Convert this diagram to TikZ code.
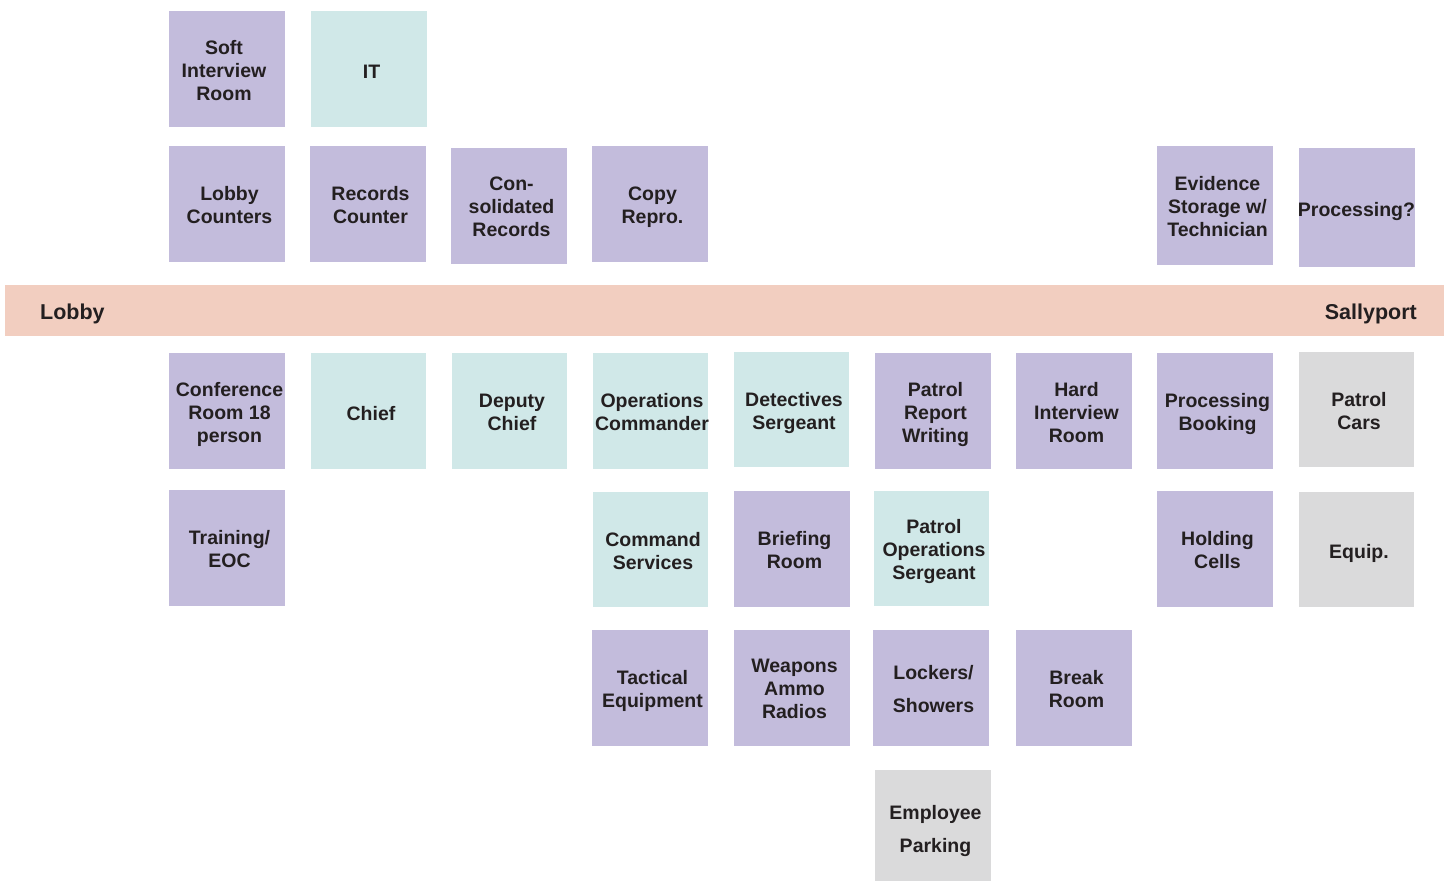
\documentclass[tikz,border=0pt]{standalone}
\usepackage{fontspec}
\setmainfont{Liberation Sans}
\definecolor{purp}{HTML}{C3BCDC}
\definecolor{teal}{HTML}{D0E8E8}
\definecolor{peach}{HTML}{F2CEC0}
\definecolor{grayb}{HTML}{DADADB}
\definecolor{ink}{HTML}{231F20}
\begin{document}
\begin{tikzpicture}[x=1pt,y=-1pt,
  box/.style={inner sep=0pt, minimum width=116pt, minimum height=116pt},
  tx/.style={align=center, text=ink, inner sep=0pt, xshift=2.5pt, yshift=-4.5pt,
    font=\bfseries\fontsize{19.5}{23}\selectfont, execute at begin node=\strut, text depth=6.9pt},
  pr/.style={box, fill=purp},
  tl/.style={box, fill=teal},
  gr/.style={box, fill=grayb},
  lbl/.style={text=ink, font=\bfseries\fontsize{21.5}{25}\selectfont, inner sep=0pt}]
\useasboundingbox (0,0) rectangle (1444,881);
% corridor
\node[fill=peach, minimum width=1439pt, minimum height=51pt, inner sep=0pt] (corr) at (724.5,310.5) {};
\node[lbl, anchor=west] (lobby) at (40,314) {Lobby};
\node[lbl, anchor=east] (sally) at (1417,314) {Sallyport};
% row A
\node[pr, label={[tx, xshift=-5.5pt]center:{Soft\\Interview\\Room}}] (soft) at (227,69) {};
\node[tl, label={[tx]center:{IT}}] (it) at (369,69) {};
% row B
\node[pr, label={[tx]center:{Lobby\\Counters}}] (lobbyc) at (227,204) {};
\node[pr, label={[tx]center:{Records\\Counter}}] (records) at (368,204) {};
\node[pr, label={[tx]center:{Con-\\solidated\\Records}}] (consol) at (509,206) {};
\node[pr, label={[tx]center:{Copy\\Repro.}}] (copy) at (650,204) {};
\node[pr, minimum height=119pt, label={[tx]center:{Evidence\\Storage w/\\Technician}}] (evid) at (1215,205.5) {};
\node[pr, minimum height=119pt, label={[tx, xshift=-3pt]center:{Processing?}}] (procq) at (1357,207.5) {};
% row C
\node[pr, label={[tx]center:{Conference\\Room 18\\person}}] (conf) at (227,411) {};
\node[tl, minimum width=115pt, label={[tx]center:{Chief}}] (chief) at (368.5,411) {};
\node[tl, minimum width=115pt, label={[tx]center:{Deputy\\Chief}}] (deputy) at (509.5,411) {};
\node[tl, minimum width=115pt, label={[tx, xshift=-1pt]center:{Operations\\Commander}}] (opscmd) at (650.5,411) {};
\node[tl, minimum width=115pt, minimum height=115pt, label={[tx]center:{Detectives\\Sergeant}}] (detect) at (791.5,409.5) {};
\node[pr, label={[tx]center:{Patrol\\Report\\Writing}}] (patrep) at (933,411) {};
\node[pr, label={[tx]center:{Hard\\Interview\\Room}}] (hard) at (1074,411) {};
\node[pr, label={[tx]center:{Processing\\Booking}}] (procbook) at (1215,411) {};
\node[gr, minimum width=115pt, minimum height=115pt, label={[tx]center:{Patrol\\Cars}}] (pcars) at (1356.5,409.5) {};
% row D
\node[pr, label={[tx]center:{Training/\\EOC}}] (train) at (227,548) {};
\node[tl, minimum width=115pt, minimum height=115pt, label={[tx]center:{Command\\Services}}] (cmdserv) at (650.5,549.5) {};
\node[pr, label={[tx]center:{Briefing\\Room}}] (brief) at (792,549) {};
\node[tl, minimum width=115pt, minimum height=115pt, label={[tx]center:{Patrol\\Operations\\Sergeant}}] (patops) at (931.5,548.5) {};
\node[pr, label={[tx]center:{Holding\\Cells}}] (hold) at (1215,549) {};
\node[gr, minimum width=115pt, minimum height=115pt, label={[tx]center:{Equip.}}] (equip) at (1356.5,549.5) {};
% row E
\node[pr, label={[tx]center:{Tactical\\Equipment}}] (tact) at (650,688) {};
\node[pr, label={[tx]center:{Weapons\\Ammo\\Radios}}] (weap) at (792,688) {};
\node[pr, label={[tx]center:{Lockers/\\[10pt]Showers}}] (lock) at (931,688) {};
\node[pr, label={[tx]center:{Break\\Room}}] (brk) at (1074,688) {};
% row F
\node[gr, minimum height=111pt, label={[tx, yshift=-2pt]center:{Employee\\[10pt]Parking}}] (park) at (933,825.5) {};
\end{tikzpicture}
\end{document}
